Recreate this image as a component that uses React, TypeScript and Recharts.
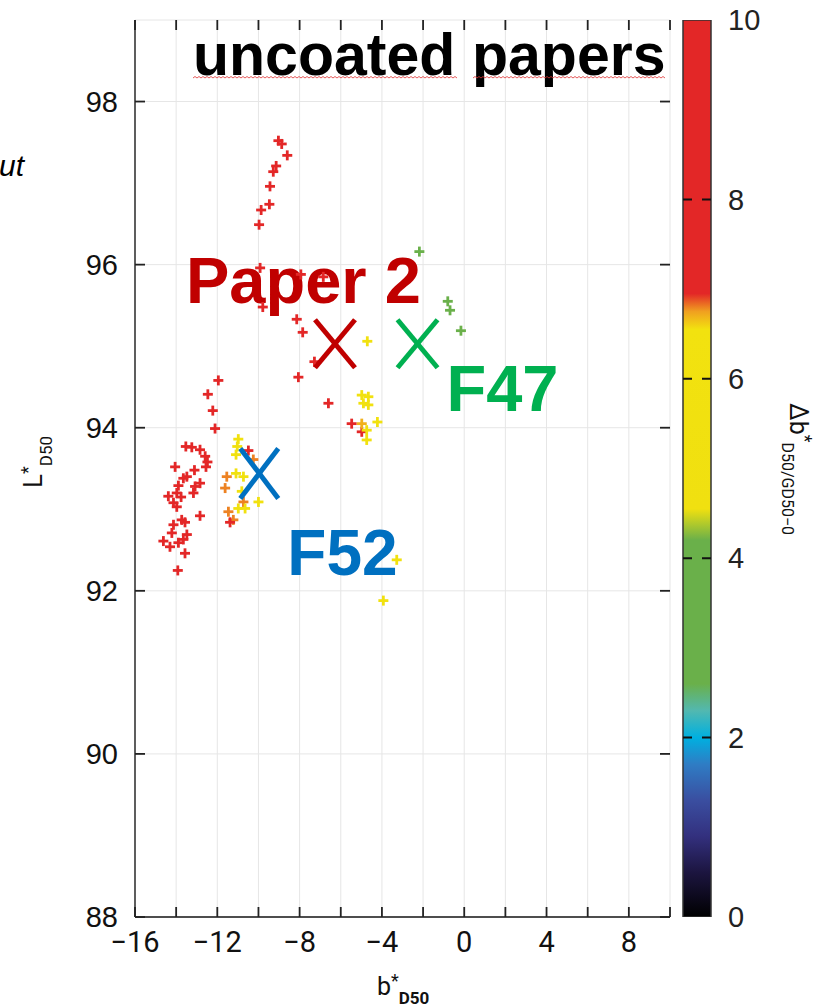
import React from "react";
import {
  ScatterChart,
  Scatter,
  XAxis,
  YAxis,
  CartesianGrid,
  Customized,
  BarChart,
  Bar,
} from "recharts";

// measured points: b*D50, L*D50 and the colour value Δb* (D50/GD50-0)
const B_D50 = [
  -9.03, -8.87, -8.6, -9.14, -9.28, -9.44, -9.47, -9.87, -9.97, -9.92, -9.79, -7.94, -6.85, -8.14, -7.85,
  -7.28, -8.06, -6.6, -5.47, -4.98,
  -4.71, -4.98, -4.66, -4.9, -4.66, -4.98, -4.22, -4.74, -4.74, -3.28, -3.93,
  -2.18, -0.8, -0.69, -0.16,
  -11.95, -12.46, -12.22, -12.11, -13.53, -13.24, -12.84, -12.59, -12.48, -12.55, -14.05, -13.11, -13.48,
  -13.65, -12.84, -13.08, -13.89, -13.97, -13.16, -14.38, -13.76, -14.13, -13.97, -12.84, -13.73, -13.57,
  -14.13, -14.21, -13.48, -13.65, -14.62, -14.3, -13.89, -13.57, -13.92,
  -10.98, -11.03, -11.09, -10.49, -10.25, -11.09, -11.54, -10.73, -11.62, -10.81, -10.73, -10.0, -10.98,
  -10.65, -11.46, -11.22, -11.38,
];
const L_D50 = [
  97.52, 97.48, 97.34, 97.21, 97.14, 96.96, 96.74, 96.67, 96.49, 95.96, 95.48, 95.88, 95.85, 95.33, 95.17,
  94.81, 94.62, 94.3, 94.05, 93.95,
  95.06, 94.4, 94.38, 94.3, 94.28, 94.05, 94.07, 93.97, 93.85, 92.38, 91.88,
  96.16, 95.55, 95.44, 95.19,
  94.58, 94.41, 94.21, 93.99, 93.77, 93.76, 93.73, 93.65, 93.58, 93.52, 93.52, 93.48, 93.4,
  93.38, 93.32, 93.28, 93.29, 93.2, 93.2, 93.16, 93.15, 93.08, 93.03, 92.92, 92.87, 92.84,
  92.81, 92.71, 92.69, 92.63, 92.61, 92.54, 92.59, 92.46, 92.25,
  93.86, 93.77, 93.67, 93.72, 93.61, 93.44, 93.4, 93.4, 93.26, 93.22, 93.09, 93.09, 93.01,
  93.01, 92.97, 92.87, 92.84,
];
const DELTA_B = [
  8.8, 8.8, 8.8, 8.8, 8.8, 8.8, 8.8, 8.8, 8.8, 8.8, 8.8, 8.8, 8.8, 8.8, 8.8,
  8.8, 8.8, 8.8, 8.8, 8.8,
  5.6, 5.6, 5.6, 5.6, 5.6, 6.7, 5.6, 5.6, 5.6, 5.6, 5.6,
  3.8, 3.4, 3.4, 3.4,
  8.8, 8.8, 8.8, 8.8, 8.8, 8.8, 8.8, 8.8, 8.8, 8.8, 8.8, 8.8, 8.8,
  8.8, 8.8, 8.8, 8.8, 8.8, 8.8, 8.8, 8.8, 8.8, 8.8, 8.8, 8.8, 8.8,
  8.8, 8.8, 8.8, 8.8, 8.8, 8.8, 8.8, 8.8, 8.8,
  5.6, 5.6, 5.6, 8.0, 6.8, 5.6, 6.8, 5.6, 6.8, 5.6, 6.8, 5.6, 5.6,
  5.6, 6.8, 6.8, 7.0,
];

// reference white points
const MARKER_NAMES = ["Paper 2", "F47", "F52"];
const MARKER_B = [-6.28, -2.27, -9.96];
const MARKER_L = [95.03, 95.03, 93.44];

const X_DOMAIN = [-16, 10];
const Y_DOMAIN = [88, 99];
const X_TICKS = [-16, -14, -12, -10, -8, -6, -4, -2, 0, 2, 4, 6, 8, 10];
const Y_TICKS = [88, 90, 92, 94, 96, 98];
const BAR_TICKS = [0, 2, 4, 6, 8, 10];

// colour map of the colour bar (value -> colour)
const CMAP_VALUES = [0, 0.5, 0.9, 1.3, 1.7, 2.0, 2.3, 2.6, 4.2, 4.55, 6.55, 6.75, 6.95, 10];
const CMAP_COLORS = [
  "#000000", "#1c1540", "#33307e", "#3a4ea0", "#2f7cc4", "#00b0e0", "#52b8b0",
  "#6ab04a", "#6ab04a", "#f0e010", "#f2e20f", "#f0a020", "#e32727", "#e32727",
];

const points = B_D50.map((b, i) => ({ b, L: L_D50[i], d: DELTA_B[i] }));
const markers = MARKER_NAMES.map((name, i) => ({ name, b: MARKER_B[i], L: MARKER_L[i] }));
const colorBar = [{ name: "scale", v: 10 }];
// inward tick marks on the four sides of the frame
const frameTicks = [
  ...X_TICKS.map((t) => ({ b: t, L: Y_DOMAIN[0], side: "bottom" })),
  ...X_TICKS.map((t) => ({ b: t, L: Y_DOMAIN[1], side: "top" })),
  ...Y_TICKS.map((t) => ({ b: X_DOMAIN[0], L: t, side: "left" })),
  ...Y_TICKS.map((t) => ({ b: X_DOMAIN[1], L: t, side: "right" })),
];

const LABEL_STYLE: Record<string, { color: string; dx: number; dy: number; size: number; w: number; h: number }> = {
  "Paper 2": { color: "#c00000", dx: -149, dy: -41, size: 65, w: 20, h: 24 },
  F47: { color: "#00b050", dx: 29, dy: 67, size: 65, w: 20, h: 24 },
  F52: { color: "#0070c0", dx: 28, dy: 102, size: 64, w: 19, h: 25 },
};

const SANS = "'Liberation Sans', Arial, sans-serif";
const NARROW = "'Liberation Sans Narrow', Roboto, sans-serif";
const TICK_LEN = 10;
const FRAME = { stroke: "#4d4d4d", strokeWidth: 1.8 };

function hexToRgb(h: string) {
  const n = parseInt(h.slice(1), 16);
  return [(n >> 16) & 255, (n >> 8) & 255, n & 255];
}

function colorOf(v: number) {
  for (let i = 1; i < CMAP_VALUES.length; i++) {
    if (v <= CMAP_VALUES[i]) {
      const t = (v - CMAP_VALUES[i - 1]) / (CMAP_VALUES[i] - CMAP_VALUES[i - 1]);
      const a = hexToRgb(CMAP_COLORS[i - 1]);
      const c = hexToRgb(CMAP_COLORS[i]);
      const m = a.map((x, k) => Math.round(x + (c[k] - x) * t));
      return `rgb(${m[0]},${m[1]},${m[2]})`;
    }
  }
  return CMAP_COLORS[CMAP_COLORS.length - 1];
}

const PlusShape = (props: any) => {
  const { cx, cy, payload } = props;
  const c = colorOf(payload.d);
  return (
    <g stroke={c} strokeWidth={2.8}>
      <line x1={cx - 5} x2={cx + 5} y1={cy} y2={cy} />
      <line x1={cx} x2={cx} y1={cy - 5} y2={cy + 5} />
    </g>
  );
};

const CrossShape = (props: any) => {
  const { cx, cy, payload } = props;
  const s = LABEL_STYLE[payload.name];
  return (
    <g stroke={s.color} strokeWidth={5}>
      <line x1={cx - s.w} y1={cy - s.h} x2={cx + s.w} y2={cy + s.h} />
      <line x1={cx - s.w} y1={cy + s.h} x2={cx + s.w} y2={cy - s.h} />
    </g>
  );
};

const NameShape = (props: any) => {
  const { cx, cy, payload } = props;
  const s = LABEL_STYLE[payload.name];
  return (
    <text x={cx + s.dx} y={cy + s.dy} fill={s.color} fontSize={s.size} fontWeight="bold" fontFamily={SANS}>
      {payload.name}
    </text>
  );
};

const FrameTickShape = (props: any) => {
  const { cx, cy, payload } = props;
  const dir: Record<string, [number, number]> = {
    bottom: [0, -1],
    top: [0, 1],
    left: [1, 0],
    right: [-1, 0],
  };
  const [dx, dy] = dir[payload.side];
  return <line x1={cx} y1={cy} x2={cx + dx * TICK_LEN} y2={cy + dy * TICK_LEN} stroke="#222" strokeWidth={1.8} />;
};

const BottomTick = (p: any) =>
  p.payload.value % 4 === 0 ? (
    <text x={p.x} y={p.y + 35} textAnchor="middle" fontSize={29} fontFamily={NARROW} fill="#111">
      {String(p.payload.value).replace("-", "−")}
    </text>
  ) : (
    <g />
  );
const LeftTick = (p: any) => (
  <text x={p.x - 17} y={p.y} dy="0.36em" textAnchor="end" fontSize={29} fontFamily={SANS} fill="#111">
    {p.payload.value}
  </text>
);

const ColorBarShape = (p: any) => {
  const x = Number(p.x);
  const y = Number(p.y);
  const width = Number(p.width);
  const height = Number(p.height);
  const inner = BAR_TICKS.filter((v) => v > 0 && v < 10);
  return (
    <g>
      <rect x={x} y={y} width={width} height={height} fill="url(#cbar)" stroke="#333" strokeWidth={1.5} />
      {inner.map((v) => {
        const ty = y + height * (1 - v / 10);
        return (
          <path key={v} d={`M${x},${ty}h9M${x + width - 9},${ty}h9`} stroke="#111" strokeWidth={2} fill="none" />
        );
      })}
    </g>
  );
};

function squiggle(x0: number, x1: number, y: number) {
  let d = `M${x0},${y}`;
  for (let x = x0; x < x1; x += 4) d += " l2,-1.5 l2,1.5";
  return d;
}

const StaticText = () => (
  <g>
    <text x={193} y={75} fontSize={59} fontWeight="bold" fontFamily={SANS} fill="#000">
      uncoated
    </text>
    <text x={472} y={75} fontSize={59} fontWeight="bold" fontFamily={SANS} fill="#000">
      papers
    </text>
    <path d={squiggle(193, 455, 78)} stroke="#e03030" strokeWidth={0.8} fill="none" />
    <path d={squiggle(473, 663, 78)} stroke="#e03030" strokeWidth={0.8} fill="none" />
    <text x={-1} y={176} fontSize={30} fontStyle="italic" fontFamily={SANS} fill="#000">
      ut
    </text>
    <text transform="translate(42,488) rotate(-90)" fontFamily={NARROW} fill="#111">
      <tspan fontSize={26}>L</tspan>
      <tspan fontSize={18} dy={-8}>*</tspan>
      <tspan fontSize={17} dy={18}>D50</tspan>
    </text>
    <text x={377} y={995} fontFamily={NARROW} fill="#111">
      <tspan fontSize={25}>b</tspan>
      <tspan fontSize={18} dy={-8}>*</tspan>
      <tspan fontSize={17} fontWeight="bold" dy={17}>D50</tspan>
    </text>
    <text transform="translate(790,403) rotate(90)" fontFamily={NARROW} fill="#111">
      <tspan fontSize={25}>Δb</tspan>
      <tspan fontSize={18} dy={-9}>*</tspan>
      <tspan fontSize={16} dy={17}>D50/GD50−0</tspan>
    </text>
  </g>
);

export default function App() {
  return (
    <div style={{ position: "absolute", left: 0, top: 0, width: 823, height: 1008, background: "#fff" }}>
      <ScatterChart width={823} height={1008} margin={{ top: 20, right: 153, bottom: 0, left: 0 }}>
        <CartesianGrid stroke="#e6e6e6" />
        <XAxis
          type="number"
          dataKey="b"
          domain={X_DOMAIN}
          ticks={X_TICKS}
          interval={0}
          height={91}
          tickSize={0}
          tickMargin={0}
          tickLine={false}
          axisLine={FRAME}
          tick={BottomTick}
        />
        <XAxis
          xAxisId="top"
          orientation="top"
          type="number"
          domain={X_DOMAIN}
          ticks={X_TICKS}
          interval={0}
          height={0}
          tickLine={false}
          tick={false}
          axisLine={FRAME}
        />
        <YAxis
          type="number"
          dataKey="L"
          domain={Y_DOMAIN}
          ticks={Y_TICKS}
          interval={0}
          width={135}
          tickSize={0}
          tickMargin={0}
          tickLine={false}
          axisLine={FRAME}
          tick={LeftTick}
        />
        <YAxis
          yAxisId="right"
          orientation="right"
          type="number"
          domain={Y_DOMAIN}
          ticks={Y_TICKS}
          interval={0}
          width={0}
          tickLine={false}
          tick={false}
          axisLine={FRAME}
        />
        <Customized component={StaticText} />
        <Scatter data={frameTicks} shape={FrameTickShape} isAnimationActive={false} />
        <Scatter data={markers} shape={NameShape} isAnimationActive={false} />
        <Scatter data={points} shape={PlusShape} isAnimationActive={false} />
        <Scatter data={markers} shape={CrossShape} isAnimationActive={false} />
      </ScatterChart>
      <div style={{ position: "absolute", left: 660, top: 0 }}>
        <BarChart
          width={160}
          height={1008}
          data={colorBar}
          margin={{ top: 20, right: 0, bottom: 91, left: 23 }}
          barCategoryGap={0}
        >
          <defs>
            <linearGradient id="cbar" x1="0" y1="1" x2="0" y2="0">
              {CMAP_VALUES.map((v, i) => (
                <stop key={i} offset={v / 10} stopColor={CMAP_COLORS[i]} />
              ))}
            </linearGradient>
          </defs>
          <XAxis dataKey="name" hide />
          <YAxis
            orientation="right"
            type="number"
            domain={[0, 10]}
            ticks={BAR_TICKS}
            interval={0}
            allowDataOverflow
            width={109}
            axisLine={false}
            tickLine={false}
            tickMargin={11}
            tick={{ fontSize: 29, fill: "#222", fontFamily: SANS }}
          />
          <Bar dataKey="v" shape={ColorBarShape} isAnimationActive={false} />
        </BarChart>
      </div>
    </div>
  );
}
